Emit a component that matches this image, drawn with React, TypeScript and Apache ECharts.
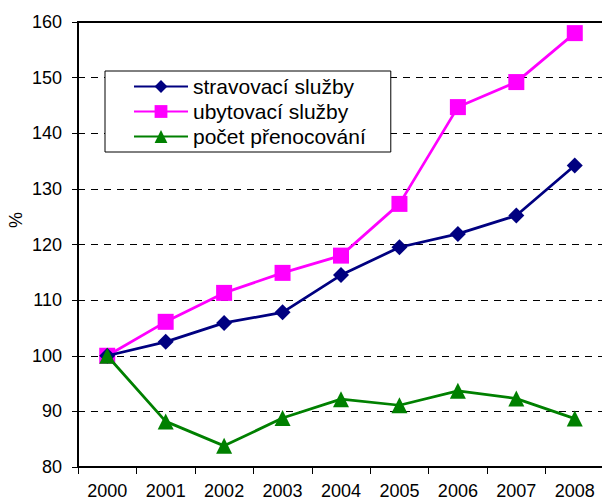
import React, { useEffect, useRef } from "react";
import * as echarts from "echarts";

const years = ["2000", "2001", "2002", "2003", "2004", "2005", "2006", "2007", "2008"];
const stravovaci = [100, 102.5, 105.9, 107.8, 114.5, 119.5, 121.9, 125.2, 134.2];
const ubytovaci = [100, 106.1, 111.3, 114.9, 118.0, 127.3, 144.7, 149.2, 158.0];
const pocet = [100, 88.2, 83.8, 88.8, 92.2, 91.1, 93.7, 92.3, 88.7];
const seriesNames = ["stravovací služby", "ubytovací služby", "počet přenocování"];
const yAxisTitle = "%";

const FONT = "Liberation Sans, Arial, sans-serif";

export default function App() {
  const ref = useRef<HTMLDivElement>(null);
  useEffect(() => {
    if (!ref.current) return;
    const chart = echarts.init(ref.current, undefined, { renderer: "svg" });
    chart.setOption({
      animation: false,
      backgroundColor: "#fff",
      textStyle: { fontFamily: FONT },
      grid: {
        left: 78,
        right: -2,
        top: 22,
        bottom: 34,
        show: true,
        borderColor: "#000",
        borderWidth: 2,
        containLabel: false,
        outerBoundsMode: "none",
      },
      graphic: [
        {
          type: "text",
          x: 16,
          y: 220,
          rotation: Math.PI / 2,
          style: {
            text: yAxisTitle,
            fontFamily: FONT,
            fontSize: 18,
            fill: "#000",
            align: "center",
            verticalAlign: "middle",
          },
        },
      ],
      legend: {
        orient: "vertical",
        left: 105,
        top: 71,
        backgroundColor: "#fff",
        borderColor: "#000",
        borderWidth: 1,
        padding: [5, 25, 5, 28],
        itemWidth: 54,
        itemHeight: 16,
        itemGap: 4,
        textStyle: { fontFamily: FONT, fontSize: 21, lineHeight: 21, color: "#000" },
        data: seriesNames,
      },
      xAxis: {
        type: "category",
        data: years,
        boundaryGap: true,
        axisLine: { lineStyle: { color: "#000", width: 2 } },
        axisTick: { show: true, length: 7, lineStyle: { color: "#000", width: 1 } },
        axisLabel: { fontFamily: FONT, fontSize: 18, lineHeight: 18, color: "#000", margin: 15 },
        splitLine: { show: false },
      },
      yAxis: {
        type: "value",
        min: 80,
        max: 160,
        interval: 10,
        axisLine: { show: true, lineStyle: { color: "#000", width: 2 } },
        axisTick: { show: true, length: 6, lineStyle: { color: "#000", width: 1 } },
        axisLabel: { fontFamily: FONT, fontSize: 18, color: "#000", margin: 16 },
        splitLine: { show: true, lineStyle: { color: "#000", width: 1, type: [7, 6] } },
      },
      series: [
        {
          name: seriesNames[0],
          type: "line",
          data: stravovaci,
          color: "#000080",
          symbol: "diamond",
          symbolSize: 16,
          lineStyle: { width: 2.75, color: "#000080" },
          itemStyle: { color: "#000080" },
          z: 3,
        },
        {
          name: seriesNames[1],
          type: "line",
          data: ubytovaci,
          color: "#FF00FF",
          symbol: "rect",
          symbolSize: 16,
          lineStyle: { width: 2.75, color: "#FF00FF" },
          itemStyle: { color: "#FF00FF" },
          z: 2,
        },
        {
          name: seriesNames[2],
          type: "line",
          data: pocet,
          color: "#008000",
          symbol: "triangle",
          symbolSize: 16,
          lineStyle: { width: 2.75, color: "#008000" },
          itemStyle: { color: "#008000" },
          z: 4,
        },
      ],
    });
    return () => chart.dispose();
  }, []);
  return (
    <div
      ref={ref}
      style={{ position: "absolute", left: 0, top: 0, width: 602, height: 501 }}
    />
  );
}
